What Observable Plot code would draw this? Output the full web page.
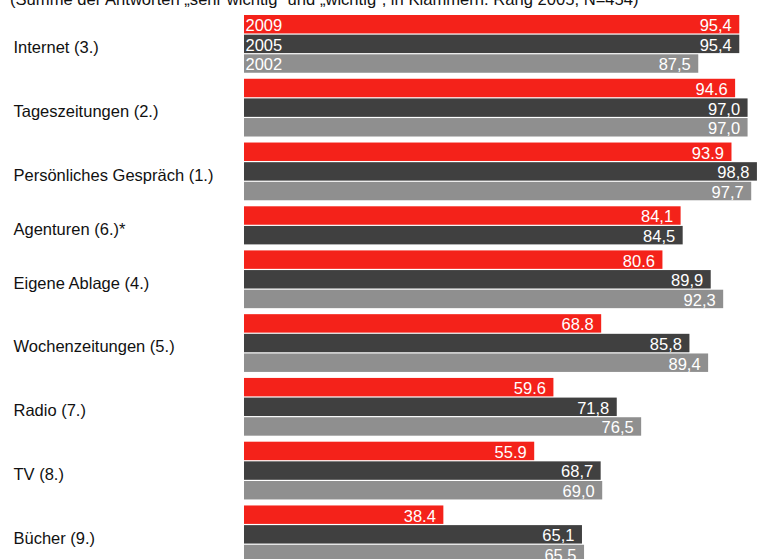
<!DOCTYPE html>
<html>
<head>
<meta charset="utf-8">
<script src="https://cdn.jsdelivr.net/npm/d3@7"></script>
<script src="https://cdn.jsdelivr.net/npm/@observablehq/plot@0.6"></script>
<style>
  html, body { margin: 0; padding: 0; background: #fff; overflow: hidden; }
  #wrap { position: relative; width: 759px; height: 559px; overflow: hidden; }
  #title { position: absolute; left: 10px; top: -9px; font: 16.6px "Liberation Sans", Arial, sans-serif; color: #111; white-space: nowrap; line-height: 18px; }
</style>
</head>
<body>
<div id="wrap">
  <div id="chart"></div>
  <div id="title">(Summe der Antworten „sehr wichtig“ und „wichtig“, in Klammern: Rang 2005, N=454)</div>
</div>
<script>
const categories = ["Internet (3.)", "Tageszeitungen (2.)", "Persönliches Gespräch (1.)", "Agenturen (6.)*", "Eigene Ablage (4.)", "Wochenzeitungen (5.)", "Radio (7.)", "TV (8.)", "Bücher (9.)"];
const years = ["2009", "2005", "2002"];
const values2009 = [95.4, 94.6, 93.9, 84.1, 80.6, 68.8, 59.6, 55.9, 38.4];
const values2005 = [95.4, 97.0, 98.8, 84.5, 89.9, 85.8, 71.8, 68.7, 65.1];
const values2002 = [87.5, 97.0, 97.7, null, 92.3, 89.4, 76.5, 69.0, 65.5];
const labels2009 = ["95,4", "94.6", "93.9", "84,1", "80.6", "68.8", "59.6", "55.9", "38.4"];
const labels2005 = ["95,4", "97,0", "98,8", "84,5", "89,9", "85,8", "71,8", "68,7", "65,1"];
const labels2002 = ["87,5", "97,0", "97,7", null, "92,3", "89,4", "76,5", "69,0", "65,5"];
const colors = ["#f4221a", "#404040", "#8f8f8f"];

const series = [
  {year: years[0], values: values2009, labels: labels2009},
  {year: years[1], values: values2005, labels: labels2005},
  {year: years[2], values: values2002, labels: labels2002}
];

const GAP = 0.245;
const rows = [];
const groups = [];
let pos = 0;
categories.forEach((c, gi) => {
  if (gi > 0) pos += GAP;
  const start = pos;
  series.forEach((s) => {
    const v = s.values[gi];
    if (v == null) return;
    rows.push({cat: c, year: s.year, value: v, label: s.labels[gi], y1: pos, y2: pos + 1, first: gi === 0});
    pos += 1;
  });
  groups.push({cat: c, mid: (start + pos) / 2});
});
const total = pos;
const pitch = 19.65;

const font = "Liberation Sans, Arial, sans-serif";
const chart = Plot.plot({
  width: 759,
  height: 559,
  marginLeft: 244,
  marginRight: 0,
  marginTop: 15,
  marginBottom: 0,
  style: {fontFamily: font, background: "white", overflow: "hidden"},
  x: {domain: [0, 99.2], axis: null},
  y: {domain: [0, total], range: [15, 15 + total * pitch], axis: null},
  color: {domain: years, range: colors},
  marks: [
    Plot.rect(rows, {x1: 0, x2: "value", y1: "y1", y2: "y2", fill: "year", insetBottom: 1.2}),
    Plot.text(rows, {x: "value", y: d => (d.y1 + d.y2) / 2, text: "label", textAnchor: "end", dx: -8, dy: 0.5, fill: "white", fontSize: 16.5, lineAnchor: "middle"}),
    Plot.text(rows.filter(d => d.first), {x: 0, y: d => (d.y1 + d.y2) / 2, text: "year", textAnchor: "start", dx: 1, dy: 0.5, fill: "white", fontSize: 16.5, lineAnchor: "middle"}),
    Plot.text(groups, {frameAnchor: "left", y: "mid", text: "cat", textAnchor: "start", dx: -231, dy: 3, fill: "#111", fontSize: 16.5, lineAnchor: "middle"})
  ]
});
document.getElementById("chart").appendChild(chart);
</script>
</body>
</html>
